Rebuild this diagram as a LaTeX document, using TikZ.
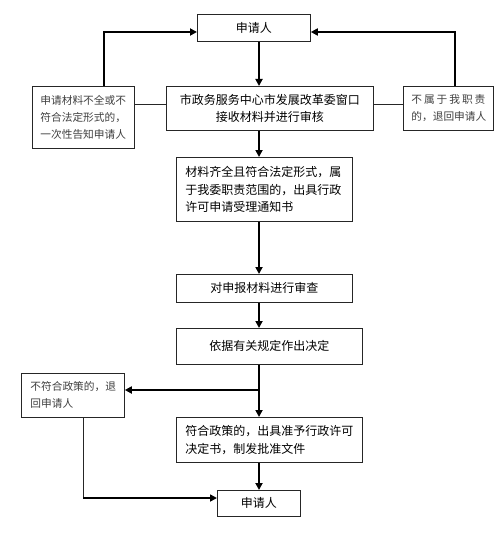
\documentclass[tikz,border=0pt]{standalone}
\usepackage{fontspec}
\newfontfamily\cjk{Noto Sans CJK SC}
\usetikzlibrary{arrows.meta}
\begin{document}
\begin{tikzpicture}[x=1pt,y=-1pt,
  box/.style={draw=black!85, line width=0.8pt, inner sep=0pt, anchor=north west},
  mainfont/.style={font=\cjk\fontsize{12}{17.5}\selectfont},
  sidefont/.style={font=\cjk\fontsize{10.7}{17}\selectfont, text=black!75},
  arr/.style={line width=2pt, -{Triangle[length=7pt,width=7pt]}},
  thinline/.style={line width=0.8pt, draw=black!85}]
\useasboundingbox[fill=white] (0,0) rectangle (499,559);
\coordinate (spine) at (259,0);
% nodes
\node[box, mainfont, minimum width=113pt, minimum height=27pt, align=center] (top) at (197,14) {申请人};
\node[box, sidefont, minimum height=62pt, text width=86pt, inner xsep=8pt, align=left] (lbox) at (32,86)
  {申请材料不全或不\\符合法定形式的，\\一次性告知申请人};
\node[box, mainfont, minimum width=207pt, minimum height=44pt, align=center] (cbox) at (166,86)
  {市政务服务中心市发展改革委窗口\\接收材料并进行审核};
\node[box, sidefont, minimum height=44pt, text width=74pt, inner xsep=8pt, align=left] (rbox) at (403,86)
  {\hbox to 74pt{不\hfill 属\hfill 于\hfill 我\hfill 职\hfill 责}\\的，退回申请人};
\node[box, mainfont, minimum height=64pt, text width=158pt, inner xsep=9pt, align=left] (b3) at (176,157)
  {材料齐全且符合法定形式，属\\于我委职责范围的，出具行政\\许可申请受理通知书};
\node[box, mainfont, minimum width=176pt, minimum height=28pt, align=center] (b4) at (176,274) {对申报材料进行审查};
\node[box, mainfont, minimum width=186pt, minimum height=36pt, align=center] (b5) at (176,328) {依据有关规定作出决定};
\node[box, sidefont, minimum height=44pt, text width=85pt, inner xsep=9pt, align=left] (b6) at (21,373)
  {不符合政策的，退\\回申请人};
\node[box, mainfont, minimum height=45pt, text width=168pt, inner xsep=9pt, align=left] (b7) at (176,417)
  {符合政策的，出具准予行政许可\\决定书，制发批准文件};
\node[box, mainfont, minimum width=83pt, minimum height=26pt, align=center] (b8) at (217,490) {申请人};
% main spine
\draw[arr] (top.south -| spine) -- (cbox.north -| spine);
\draw[arr] (cbox.south -| spine) -- (b3.north -| spine);
\draw[arr] (b3.south -| spine) -- (b4.north -| spine);
\draw[arr] (b4.south -| spine) -- (b5.north -| spine);
\draw[arr] (b5.south -| spine) -- (b7.north -| spine);
\draw[arr] (b7.south -| spine) -- (b8.north -| spine);
\coordinate (br) at (259,390);
\draw[arr] (br) -- (b6.east |- br);
% top side loops
\coordinate (lt) at (104,32);
\draw[arr] (lbox.north -| lt) -- (lt) -- (top.west |- lt);
\coordinate (rt) at (455,32);
\draw[arr] (rbox.north -| rt) -- (rt) -- (top.east |- rt);
% thin links
\coordinate (mid) at (0,104);
\draw[thinline] (lbox.east |- mid) -- (cbox.west |- mid);
\draw[thinline] (rbox.west |- mid) -- (cbox.east |- mid);
% bottom loop
\coordinate (bl) at (83,498);
\draw[thinline] (b6.south -| bl) -- (bl);
\draw[arr, line width=1.6pt] (bl) -- (b8.west |- bl);
\end{tikzpicture}
\end{document}
